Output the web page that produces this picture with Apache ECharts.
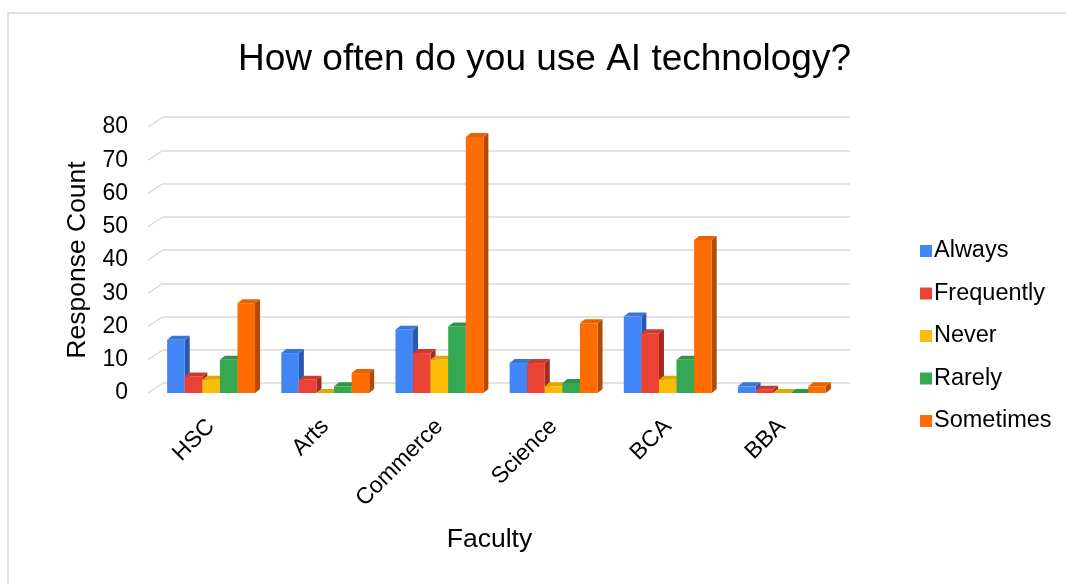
<!DOCTYPE html>
<html>
<head>
<meta charset="utf-8">
<script src="https://cdn.jsdelivr.net/npm/echarts@6/dist/echarts.min.js"></script>
<style>
html,body{margin:0;padding:0;background:#fff;}
#frame{position:absolute;left:7px;top:12px;width:1100px;height:620px;border:2px solid #e2e2e2;box-sizing:border-box;}
#chart{position:absolute;left:0;top:0;width:1066px;height:584px;}
</style>
</head>
<body>
<div id="frame"></div>
<div id="chart"></div>
<script>
const categories = ['HSC', 'Arts', 'Commerce', 'Science', 'BCA', 'BBA'];
const seriesNames = ['Always', 'Frequently', 'Never', 'Rarely', 'Sometimes'];
const always     = [16, 12, 19, 9, 23, 2];
const frequently = [5, 4, 12, 9, 18, 1];
const never      = [4, 0, 10, 2, 4, 0];
const rarely     = [10, 2, 20, 3, 10, 0];
const sometimes  = [27, 6, 77, 21, 46, 2];
const yTicks = [0, 10, 20, 30, 40, 50, 60, 70, 80];

const seriesValues = [always, frequently, never, rarely, sometimes];
const frontColors = ['#4285F4', '#EA4335', '#FBBC04', '#34A853', '#FF6D01'];
const topColors   = ['#3A74DA', '#D03A2E', '#E0A800', '#2E9449', '#E86200'];
const sideColors  = ['#2B58AE', '#A52B22', '#B08300', '#226E36', '#B34A00'];

function barRender(s) {
  return function (params, api) {
    const ci = api.value(0), v = api.value(1);
    const base = api.coord([ci, 0]);
    const top = api.coord([ci, v]);
    const band = api.size([1, 0])[0];
    const gw = band * 0.77, bw = gw / 5;
    const x0 = base[0] - gw / 2 + s * bw;
    const dx = 5, dy = -4;
    const yt = top[1], yb = base[1];
    return {
      type: 'group',
      children: [
        { type: 'polygon', shape: { points: [[x0 + bw, yt], [x0 + bw + dx, yt + dy], [x0 + bw + dx, yb + dy], [x0 + bw, yb]] }, style: { fill: sideColors[s] } },
        { type: 'polygon', shape: { points: [[x0, yt], [x0 + dx, yt + dy], [x0 + bw + dx, yt + dy], [x0 + bw, yt]] }, style: { fill: topColors[s] } },
        { type: 'rect', shape: { x: x0, y: yt, width: bw, height: yb - yt }, style: { fill: frontColors[s] } }
      ]
    };
  };
}

const barSeries = seriesNames.map((name, s) => ({
  name: name,
  type: 'custom',
  xAxisIndex: 0,
  yAxisIndex: 0,
  itemStyle: { color: frontColors[s] },
  renderItem: barRender(s),
  encode: { x: 0, y: 1 },
  data: seriesValues[s].map((v, i) => [i, v]),
  z: 5
}));

const slantSeries = {
  type: 'custom',
  xAxisIndex: 1,
  yAxisIndex: 1,
  silent: true,
  renderItem: function (params, api) {
    const p = api.coord([0, api.value(1)]);
    return { type: 'line', shape: { x1: p[0] - 15, y1: p[1] + 10, x2: p[0], y2: p[1] }, style: { stroke: '#d9d9d9', lineWidth: 1.5 } };
  },
  encode: { x: 0, y: 1 },
  data: yTicks.map(v => [0, v]),
  z: 1
};

const chart = echarts.init(document.getElementById('chart'), null, { renderer: 'canvas' });
chart.setOption({
  animation: false,
  backgroundColor: 'transparent',
  textStyle: { fontFamily: 'Liberation Sans, Arial, sans-serif' },
  title: {
    text: 'How often do you use AI technology?',
    left: 233,
    top: 36,
    padding: 5,
    textStyle: { fontSize: 37, fontWeight: 'normal', color: '#000', fontFamily: 'Liberation Sans, Arial, sans-serif' }
  },
  legend: {
    orient: 'vertical',
    left: 915,
    top: 234,
    itemWidth: 12,
    itemHeight: 12,
    itemGap: 18.5,
    icon: 'rect',
    data: seriesNames,
    textStyle: { fontSize: 23.5, color: '#000', padding: [0, 0, 0, -3] }
  },
  grid: [
    { left: 154, right: 227, top: 127, bottom: 191 },
    { left: 163, right: 216, top: 117, bottom: 201 }
  ],
  xAxis: [
    {
      type: 'category',
      gridIndex: 0,
      data: categories,
      axisLine: { show: false },
      axisTick: { show: false },
      axisLabel: { rotate: 45, fontSize: 23, color: '#000', margin: 30, interval: 0 },
      name: 'Faculty',
      nameLocation: 'middle',
      nameGap: 133,
      nameTextStyle: { fontSize: 26.5, color: '#000', padding: [0, 14, 0, 0] }
    },
    { type: 'value', gridIndex: 1, min: 0, max: 1, show: false }
  ],
  yAxis: [
    {
      type: 'value',
      gridIndex: 0,
      min: 0,
      max: 80,
      interval: 10,
      axisLine: { show: false },
      axisTick: { show: false },
      splitLine: { show: false },
      axisLabel: { fontSize: 23, color: '#000', margin: 26 },
      name: 'Response Count',
      nameLocation: 'middle',
      nameGap: 58,
      nameTextStyle: { fontSize: 26.5, color: '#000' }
    },
    {
      type: 'value',
      gridIndex: 1,
      min: 0,
      max: 80,
      interval: 10,
      axisLine: { show: false },
      axisTick: { show: false },
      axisLabel: { show: false },
      splitLine: { show: true, lineStyle: { color: '#d9d9d9', width: 1.5 } }
    }
  ],
  series: [slantSeries].concat(barSeries)
});
</script>
</body>
</html>
